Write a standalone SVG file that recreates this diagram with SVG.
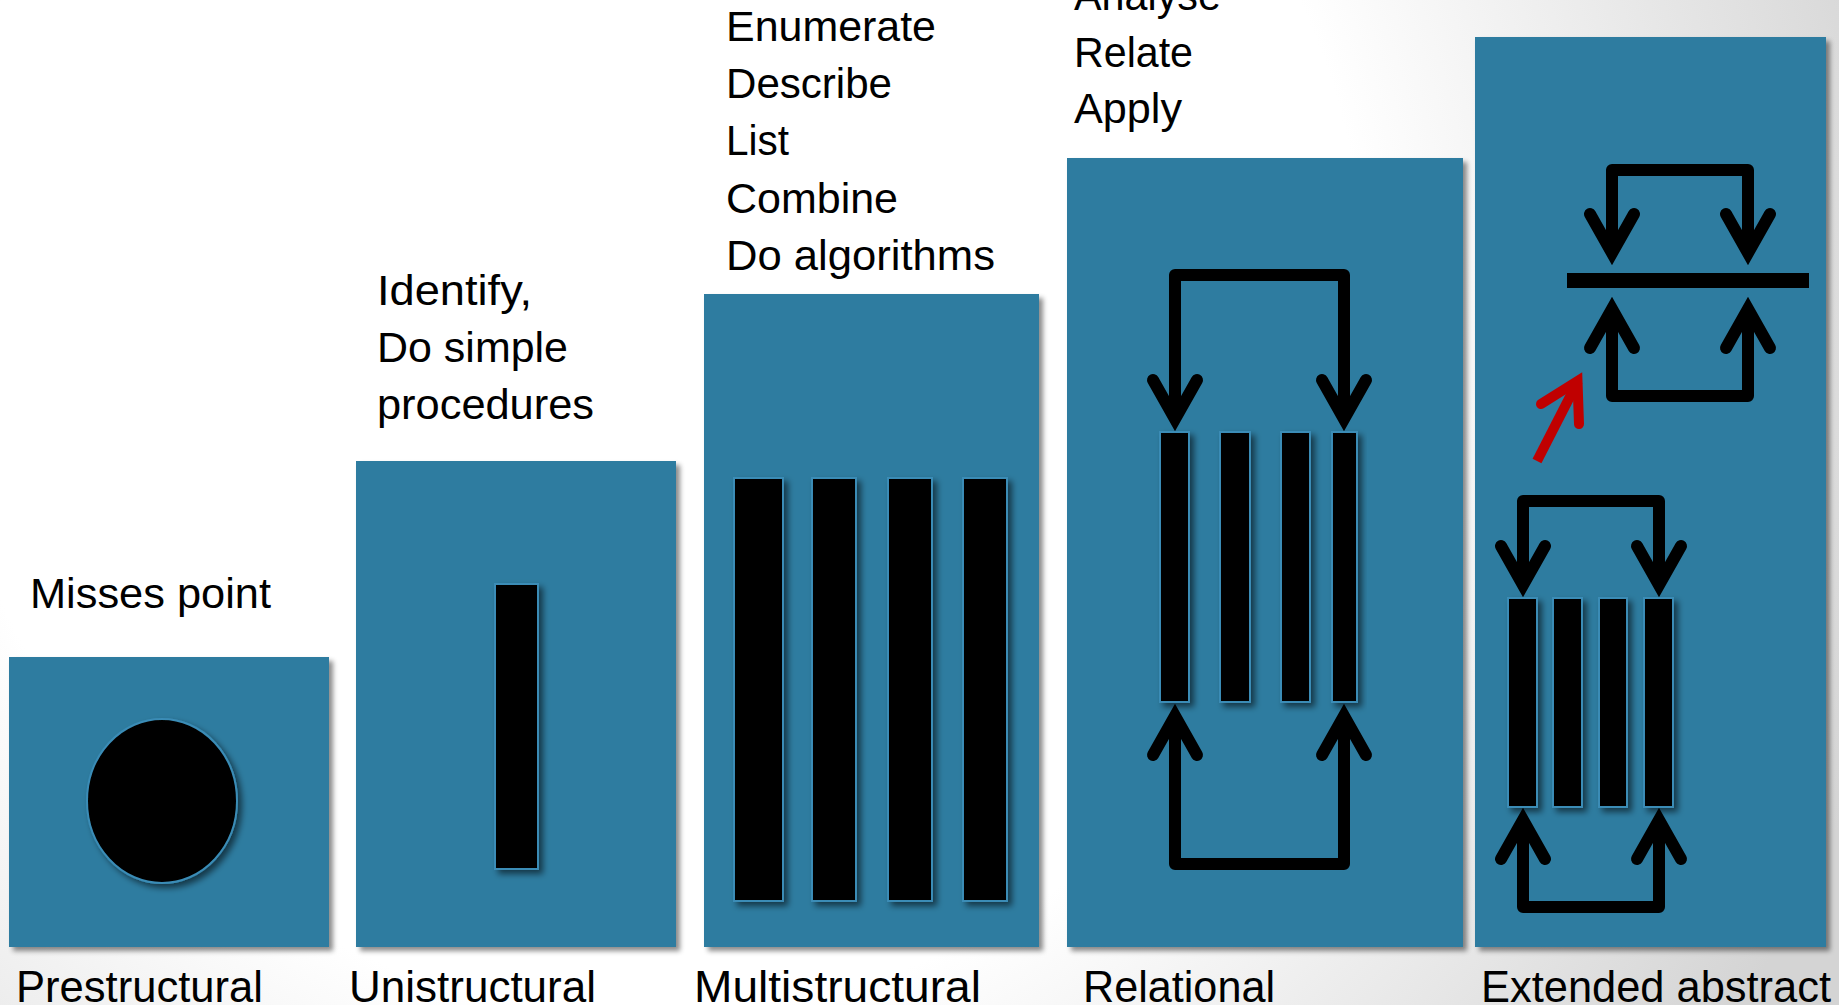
<svg xmlns="http://www.w3.org/2000/svg" width="1839" height="1005" viewBox="0 0 1839 1005">
  <defs>
    <radialGradient id="bg" gradientUnits="userSpaceOnUse" cx="650" cy="300" r="1300">
      <stop offset="0.55" stop-color="#ffffff"/>
      <stop offset="1" stop-color="#d4d4d4"/>
    </radialGradient>
    <filter id="boxShadow" x="-5%" y="-5%" width="115%" height="115%">
      <feDropShadow dx="4" dy="4" stdDeviation="2.5" flood-color="#000" flood-opacity="0.45"/>
    </filter>
    <filter id="barShadow" x="-30%" y="-10%" width="170%" height="125%">
      <feDropShadow dx="4" dy="4" stdDeviation="3" flood-color="#000" flood-opacity="0.55"/>
    </filter>
  </defs>
  <style>
    .box { fill: #2E7BA0; filter: url(#boxShadow); }
    .bar { fill: #000; stroke: #3a8cb6; stroke-width: 2; filter: url(#barShadow); }
    .lbl { font-family: "Liberation Sans", Arial, sans-serif; font-size: 42px; fill: #000; }
    .cap { font-family: "Liberation Sans", Arial, sans-serif; font-size: 44px; fill: #000; }
    .line { fill: none; stroke: #000; stroke-width: 12; stroke-linejoin: round; stroke-linecap: butt; }
    .head { fill: none; stroke: #000; stroke-width: 12; stroke-linejoin: miter; stroke-miterlimit: 6; stroke-linecap: round; }
    .red { fill: none; stroke: #C00000; stroke-width: 10; }
  </style>

  <rect x="0" y="0" width="1839" height="1005" fill="url(#bg)"/>

  <g id="prestructural">
    <rect class="box" x="9" y="657" width="320" height="290"/>
    <ellipse class="bar" cx="162" cy="801" rx="75" ry="82"/>
    <text class="lbl" x="30" y="608" textLength="241" lengthAdjust="spacingAndGlyphs">Misses point</text>
    <text class="cap" x="16" y="1002" textLength="247" lengthAdjust="spacingAndGlyphs">Prestructural</text>
  </g>

  <g id="unistructural">
    <rect class="box" x="356" y="461" width="320" height="486"/>
    <rect class="bar" x="495" y="584" width="43" height="285"/>
    <text class="lbl" x="377" y="305" textLength="155" lengthAdjust="spacingAndGlyphs">Identify,</text>
    <text class="lbl" x="377" y="362" textLength="191" lengthAdjust="spacingAndGlyphs">Do simple</text>
    <text class="lbl" x="377" y="419" textLength="217" lengthAdjust="spacingAndGlyphs">procedures</text>
    <text class="cap" x="349" y="1002" textLength="247" lengthAdjust="spacingAndGlyphs">Unistructural</text>
  </g>

  <g id="multistructural">
    <rect class="box" x="704" y="294" width="335" height="653"/>
    <rect class="bar" x="734" y="478" width="49" height="423"/>
    <rect class="bar" x="812" y="478" width="44" height="423"/>
    <rect class="bar" x="888" y="478" width="44" height="423"/>
    <rect class="bar" x="963" y="478" width="44" height="423"/>
    <text class="lbl" x="726" y="41" textLength="210" lengthAdjust="spacingAndGlyphs">Enumerate</text>
    <text class="lbl" x="726" y="98" textLength="166" lengthAdjust="spacingAndGlyphs">Describe</text>
    <text class="lbl" x="726" y="155" textLength="63" lengthAdjust="spacingAndGlyphs">List</text>
    <text class="lbl" x="726" y="213" textLength="172" lengthAdjust="spacingAndGlyphs">Combine</text>
    <text class="lbl" x="726" y="270" textLength="269" lengthAdjust="spacingAndGlyphs">Do algorithms</text>
    <text class="cap" x="694" y="1002" textLength="287" lengthAdjust="spacingAndGlyphs">Multistructural</text>
  </g>

  <g id="relational">
    <rect class="box" x="1067" y="158" width="396" height="789"/>
    <rect class="bar" x="1160" y="432" width="29" height="270"/>
    <rect class="bar" x="1220" y="432" width="30" height="270"/>
    <rect class="bar" x="1281" y="432" width="29" height="270"/>
    <rect class="bar" x="1332" y="432" width="25" height="270"/>
    <text class="lbl" x="1074" y="10" textLength="147" lengthAdjust="spacingAndGlyphs">Analyse</text>
    <text class="lbl" x="1074" y="67" textLength="119" lengthAdjust="spacingAndGlyphs">Relate</text>
    <text class="lbl" x="1074" y="123" textLength="108" lengthAdjust="spacingAndGlyphs">Apply</text>
    <text class="cap" x="1083" y="1002" textLength="192" lengthAdjust="spacingAndGlyphs">Relational</text>
  </g>

  <g id="extended-abstract">
    <rect class="box" x="1475" y="37" width="351" height="910"/>
    <rect x="1567" y="273" width="242" height="15" fill="#000"/>
    <rect class="bar" x="1508" y="598" width="29" height="209"/>
    <rect class="bar" x="1553" y="598" width="29" height="209"/>
    <rect class="bar" x="1599" y="598" width="28" height="209"/>
    <rect class="bar" x="1644" y="598" width="29" height="209"/>
    <text class="cap" x="1481" y="1002" textLength="350" lengthAdjust="spacingAndGlyphs">Extended abstract</text>
  </g>

  <g id="connectors">
    <path class="line" d="M1175,419 L1175,275 L1344,275 L1344,419"/>
    <path class="head" d="M1153,380 L1175,419 L1197,380"/>
    <path class="head" d="M1322,380 L1344,419 L1366,380"/>
    <path class="line" d="M1175,716 L1175,864 L1344,864 L1344,716"/>
    <path class="head" d="M1153,755 L1175,716 L1197,755"/>
    <path class="head" d="M1322,755 L1344,716 L1366,755"/>

    <path class="line" d="M1612,253 L1612,170 L1748,170 L1748,253"/>
    <path class="head" d="M1590,214 L1612,253 L1634,214"/>
    <path class="head" d="M1726,214 L1748,253 L1770,214"/>
    <path class="line" d="M1612,309 L1612,396 L1748,396 L1748,309"/>
    <path class="head" d="M1590,348 L1612,309 L1634,348"/>
    <path class="head" d="M1726,348 L1748,309 L1770,348"/>

    <path class="line" d="M1523,585 L1523,501 L1659,501 L1659,585"/>
    <path class="head" d="M1501,546 L1523,585 L1545,546"/>
    <path class="head" d="M1637,546 L1659,585 L1681,546"/>
    <path class="line" d="M1523,820 L1523,907 L1659,907 L1659,820"/>
    <path class="head" d="M1501,859 L1523,820 L1545,859"/>
    <path class="head" d="M1637,859 L1659,820 L1681,859"/>

    <path class="red" d="M1537,461 L1578,381" stroke-linecap="butt"/>
    <path class="red" d="M1541,404 L1577.5,381 L1579,424" stroke-linejoin="miter" stroke-miterlimit="6" stroke-linecap="round"/>
  </g>
</svg>
